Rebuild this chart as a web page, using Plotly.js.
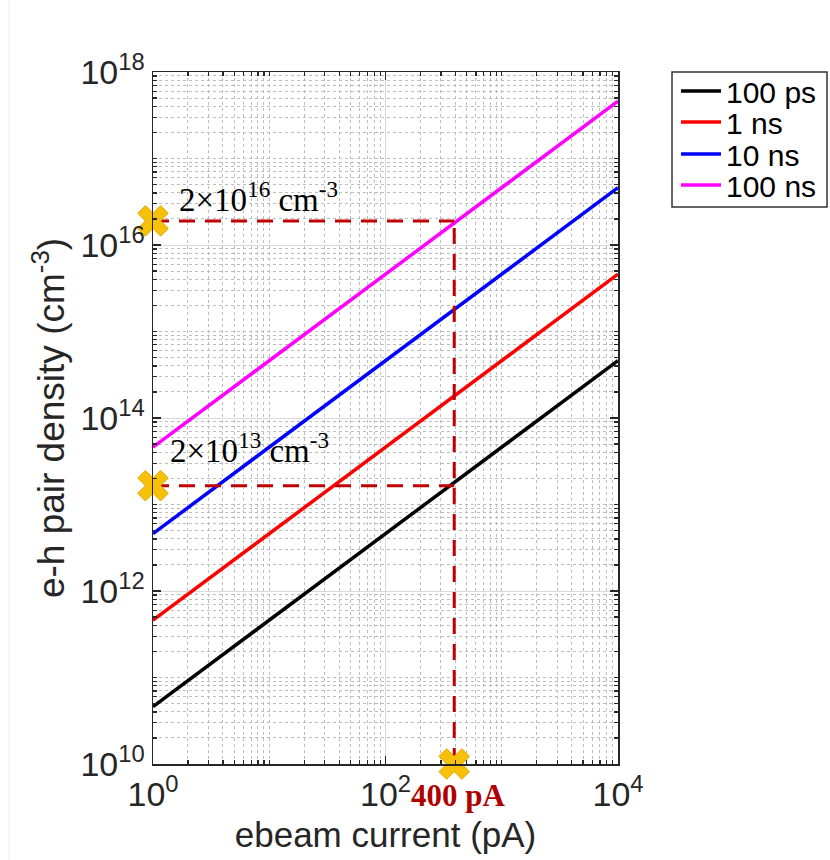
<!DOCTYPE html>
<html>
<head>
<meta charset="utf-8">
<script src="https://cdn.plot.ly/plotly-3.0.1.min.js"></script>
<style>html,body{margin:0;padding:0;background:#fff;}#chart{width:830px;height:860px;}</style>
</head>
<body>
<div id="chart"></div>
<script>
// Data
const current = [1, 10000];               // ebeam current (pA)
const seriesNames = ['100 ps', '1 ns', '10 ns', '100 ns'];
const seriesColors = ['#000000', '#ff0000', '#0000ff', '#ff00ff'];
const density100ps = [4.6e10, 4.6e14];
const density1ns = [4.6e11, 4.6e15];
const density10ns = [4.6e12, 4.6e16];
const density100ns = [4.6e13, 4.6e17];

const guideCurrent = 390;                  // pA
const guideHigh = 1.9e16;                  // cm^-3
const guideLow = 1.65e13;                  // cm^-3
const axisMinDensity = 1e10;
const markerX = [1, 1, guideCurrent];
const markerY = [guideHigh, guideLow, axisMinDensity];

const xTickVals = [1, 100, 10000];
const xTickText = ['10<sup>0</sup>', '10<sup>2</sup>', '10<sup>4</sup>'];
const yTickVals = [1e10, 1e12, 1e14, 1e16, 1e18];
const yTickText = ['10<sup>10</sup>', '10<sup>12</sup>', '10<sup>14</sup>', '10<sup>16</sup>', '10<sup>18</sup>'];

function minorVals(e0, e1, majors) {
  const out = [];
  for (let e = e0; e < e1; e++) {
    for (let n = 1; n <= 9; n++) {
      const v = n * Math.pow(10, e);
      if (majors.indexOf(v) === -1) out.push(v);
    }
  }
  return out;
}

const allSeries = [density100ps, density1ns, density10ns, density100ns];
const legendIds = ['legend', 'legend2', 'legend3', 'legend4'];
const guideColor = '#c00000';
const traces = allSeries.map((ys, i) => ({
  x: current, y: ys, type: 'scatter', mode: 'lines', name: seriesNames[i],
  legend: legendIds[i],
  line: {color: seriesColors[i], width: 3.5}
}));

const dash = '16px,10px';
traces.push({x: [1, guideCurrent], y: [guideHigh, guideHigh], mode: 'lines', showlegend: false,
  line: {color: guideColor, width: 3, dash: dash}, hoverinfo: 'skip'});
traces.push({x: [1, guideCurrent], y: [guideLow, guideLow], mode: 'lines', showlegend: false,
  line: {color: guideColor, width: 3, dash: dash}, hoverinfo: 'skip'});
traces.push({x: [guideCurrent, guideCurrent], y: [axisMinDensity, guideHigh], mode: 'lines', showlegend: false,
  line: {color: guideColor, width: 3, dash: dash}, hoverinfo: 'skip'});
traces.push({x: markerX, y: markerY, mode: 'markers', showlegend: false, cliponaxis: false,
  marker: {symbol: 'x', size: 27, color: '#f7c10a', line: {color: '#e0a800', width: 1}}});

const tickFont = {family: 'Liberation Sans, Arial, sans-serif', size: 34, color: '#262626'};
const xTitleFont = {family: 'Liberation Sans, Arial, sans-serif', size: 35, color: '#262626'};
const yTitleFont = {family: 'Liberation Sans, Arial, sans-serif', size: 37, color: '#262626'};
const commonAxis = {
  type: 'log', showline: true, linecolor: '#262626', linewidth: 1.5, mirror: 'allticks',
  ticks: 'inside', ticklen: 8, tickwidth: 1.2, tickcolor: '#262626',
  tickmode: 'array', showgrid: true, gridcolor: '#d9d9d9', gridwidth: 1,
  zeroline: false, tickfont: tickFont
};

// legend rows (paper coords)
const legendFont = {family: 'Liberation Sans, Arial, sans-serif', size: 30, color: '#000000'};
const plotBottom = 764, plotH = 692, plotLeft = 153, plotW = 465;
const rowCenters = [91, 122, 154, 185];
const legends = {};
legendIds.forEach((id, i) => {
  legends[id] = {x: (676 - plotLeft) / plotW, y: (plotBottom - rowCenters[i]) / plotH,
    xanchor: 'left', yanchor: 'middle', bgcolor: 'rgba(0,0,0,0)', borderwidth: 0,
    itemwidth: 40, font: legendFont};
});

const layout = Object.assign({
  width: 830, height: 860,
  margin: {l: 153, r: 212, t: 72, b: 96, autoexpand: false},
  paper_bgcolor: '#ffffff', plot_bgcolor: '#ffffff',
  showlegend: true,
  xaxis: Object.assign({}, commonAxis, {
    range: [0, 4], tickvals: xTickVals, ticktext: xTickText,
    title: {text: 'ebeam current (pA)', font: xTitleFont, standoff: 10},
    minor: {tickmode: 'array', tickvals: minorVals(0, 4, xTickVals), ticks: 'inside', ticklen: 4,
      tickcolor: '#262626', showgrid: true, gridcolor: '#bdbdbd', gridwidth: 1, griddash: 'dot'}
  }),
  yaxis: Object.assign({}, commonAxis, {
    range: [10, 18], tickvals: yTickVals, ticktext: yTickText,
    title: {text: 'e-h pair density (cm<sup>-3</sup>)', font: yTitleFont, standoff: 4},
    minor: {tickmode: 'array', tickvals: minorVals(10, 18, yTickVals), ticks: 'inside', ticklen: 4,
      tickcolor: '#262626', showgrid: true, gridcolor: '#bdbdbd', gridwidth: 1, griddash: 'dot'}
  }),
  shapes: [
    {type: 'rect', xref: 'paper', yref: 'paper',
      x0: (672 - plotLeft) / plotW, x1: (827 - plotLeft) / plotW,
      y0: (plotBottom - 207) / plotH, y1: (plotBottom - 72) / plotH,
      line: {color: '#333333', width: 1.5}, fillcolor: 'rgba(0,0,0,0)', layer: 'below'},
    {type: 'line', xref: 'paper', yref: 'paper',
      x0: (9 - plotLeft) / plotW, x1: (9 - plotLeft) / plotW,
      y0: (plotBottom - 860) / plotH, y1: (plotBottom - 0) / plotH,
      line: {color: '#ececec', width: 1}}
  ],
  annotations: [
    {x: 0.206, y: 16.555, xref: 'x', yref: 'y', xanchor: 'left', yanchor: 'middle', showarrow: false,
      text: '2×10<sup>16</sup> cm<sup>-3</sup>',
      font: {family: 'Liberation Serif, DejaVu Serif, serif', size: 33, color: '#000000'}},
    {x: 0.13, y: 13.653, xref: 'x', yref: 'y', xanchor: 'left', yanchor: 'middle', showarrow: false,
      text: '2×10<sup>13</sup> cm<sup>-3</sup>',
      font: {family: 'Liberation Serif, DejaVu Serif, serif', size: 33, color: '#000000'}},
    {x: (409 - plotLeft) / plotW, y: -0.046, xref: 'paper', yref: 'paper', xanchor: 'left', yanchor: 'middle', showarrow: false,
      text: '<b>400 pA</b>',
      font: {family: 'Liberation Serif, DejaVu Serif, serif', size: 31, color: '#b00000'}}
  ]
}, legends);

Plotly.newPlot('chart', traces, layout, {displayModeBar: false, staticPlot: true});
</script>
</body>
</html>
